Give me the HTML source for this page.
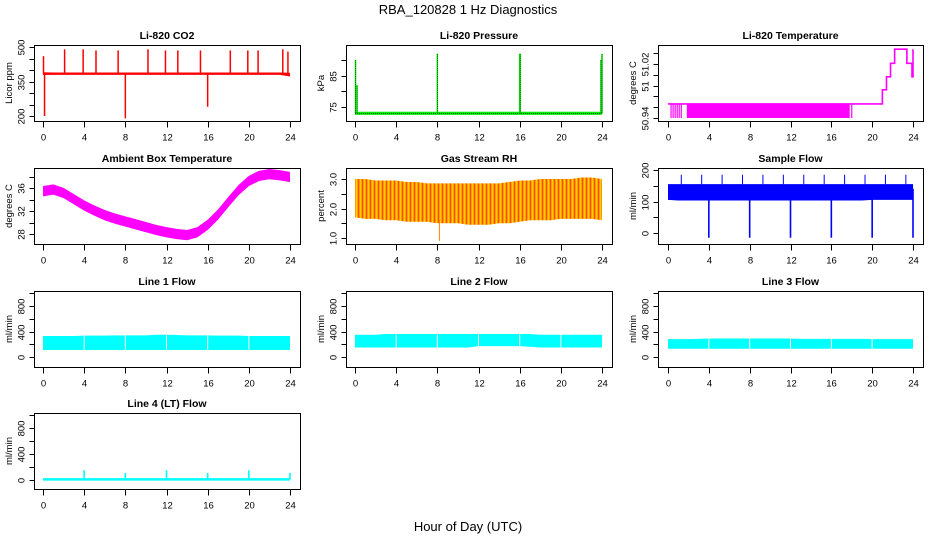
<!DOCTYPE html>
<html><head><meta charset="utf-8">
<style>
html,body{margin:0;padding:0;background:#fff;}
svg{display:block;font-family:"Liberation Sans",Arial,sans-serif;}
</style></head>
<body>
<svg id="chart" width="936" height="540" viewBox="0 0 936 540" xmlns="http://www.w3.org/2000/svg">
<defs>
<pattern id="rhpat" width="4" height="4" patternUnits="userSpaceOnUse">
<rect width="4" height="4" fill="#ff9a00"/><rect width="1" height="4" fill="#ffd000"/><rect x="2" y="0" width="1" height="4" fill="#ff5000"/>
</pattern>
</defs>
<text x="468" y="14" text-anchor="middle" font-size="13">RBA_120828  1 Hz Diagnostics</text>
<text x="468" y="531" text-anchor="middle" font-size="13">Hour of Day (UTC)</text>
</svg>
<script>
// ---- data (hours 0..24) ----
const hours = [0,1,2,3,4,5,6,7,8,9,10,11,12,13,14,15,16,17,18,19,20,21,22,23,24];
const xTicks = [0,4,8,12,16,20,24];

const co2Lo = [378,379,379,379,379,379,379,379,379,379,379,379,379,379,379,379,379,379,379,379,379,379,379,379,372];
const co2Hi = [390,389,389,389,389,389,389,389,389,389,389,389,389,389,389,389,389,389,389,389,389,389,389,389,388];
const co2SpikeHours = [0.05,2.1,3.9,5.15,7.3,10.2,11.9,13.1,15.3,18.2,19.9,20.9,23.3,23.8,8.0,16.0,0.15];
const co2SpikeVals = [460,490,490,485,485,490,485,485,485,485,485,485,490,480,190,240,200];

const presLo = [72.5,72.5,72.5,72.5,72.5,72.5,72.5,72.5,72.5,72.5,72.5,72.5,72.5,72.5,72.5,72.5,72.5,72.5,72.5,72.5,72.5,72.5,72.5,72.5,72.5];
const presHi = [73.5,73.5,73.5,73.5,73.5,73.5,73.5,73.5,73.5,73.5,73.5,73.5,73.5,73.5,73.5,73.5,73.5,73.5,73.5,73.5,73.5,73.5,73.5,73.5,73.5];
const presSpikeHours = [0.05,0.2,8.0,16.0,16.05,23.9,24.0];
const presSpikeVals = [90,82,92,92,92,90,92];

const tempStepHours = [0,21.0,21.4,21.8,22.2,23.4,23.9,24.0];
const tempStepVals = [50.966,50.992,51.016,51.041,51.067,51.041,51.016,51.067];
const tempDipHours = [0.3,0.5,0.7,0.9,1.1,1.3,1.9,17.7,18.0];
const tempDipFrom = 1.9, tempDipTo = 17.8, tempDipVal = 50.94;

const ambMid = [35.5,35.8,35.2,34.1,33.0,32.1,31.3,30.7,30.2,29.7,29.2,28.7,28.3,28.0,27.8,28.3,29.6,31.4,33.6,35.7,37.3,38.2,38.5,38.3,38.0];
const ambHalf = [0.9,0.9,0.9,0.9,0.9,0.9,0.9,0.9,0.9,0.9,0.9,0.9,0.9,0.9,0.9,0.9,0.9,0.9,0.9,0.9,0.9,0.9,0.9,0.9,0.9];

const rhLo = [1.7,1.65,1.65,1.6,1.6,1.55,1.55,1.55,1.5,1.5,1.5,1.45,1.45,1.45,1.5,1.5,1.55,1.6,1.6,1.6,1.65,1.65,1.65,1.65,1.6];
const rhHi = [3.0,3.0,2.95,2.95,2.95,2.9,2.9,2.85,2.85,2.85,2.85,2.85,2.85,2.85,2.85,2.9,2.95,2.95,3.0,3.0,3.0,3.0,3.05,3.05,3.0];

const sfLo = [105,103,103,103,103,103,103,103,103,103,103,103,103,103,103,103,103,103,103,103,105,105,105,105,105];
const sfHi = [155,155,155,155,155,155,155,155,155,155,155,155,155,155,155,155,155,155,155,155,155,155,155,155,155];
const sfDropHours = [4,8,12,16,20,24];
const sfDropVals = [-15,-15,-15,-15,-15,-15];

const l1Lo = [110,110,110,110,110,110,110,110,110,110,110,110,110,110,110,110,110,110,110,110,110,110,110,110,110];
const l1Hi = [330,330,330,330,335,335,335,340,340,340,340,350,350,345,340,340,340,335,335,335,330,330,330,330,330];
const l2Lo = [150,150,150,150,150,150,150,150,150,150,150,150,170,170,170,170,170,160,150,150,150,150,150,150,150];
const l2Hi = [350,350,350,360,360,360,360,360,360,360,360,360,360,360,360,360,360,360,350,350,350,350,350,350,350];
const l3Lo = [130,130,130,130,130,130,130,130,130,130,130,130,130,130,130,130,130,130,130,130,130,130,130,130,130];
const l3Hi = [280,280,280,285,290,290,290,290,290,290,290,290,290,285,285,285,285,285,285,285,280,280,280,280,280];
const lineGapHours = [4,8,12,16,20];
const l4Base = [10,10,10,10,10,10,10,10,10,10,10,10,10,10,10,10,10,10,10,10,10,10,10,10,10];
const l4SpikeHours = [4,8,12,16,20,24];
const l4SpikeVals = [150,110,150,110,150,110];

// ---- layout ----
const NS = "http://www.w3.org/2000/svg";
const svg = document.getElementById('chart');
const cols = [{x:34,w:266,x0:43,x24:290},{x:346,w:266,x0:355,x24:602},{x:658,w:265,x0:668,x24:913}];
const rows = [45,168,291,413];
const BH = 76;

function mk(tag, attrs, parent){
  const e = document.createElementNS(NS, tag);
  for (const k in attrs) e.setAttribute(k, attrs[k]);
  (parent||svg).appendChild(e);
  return e;
}

function makePanel(name, title, col, row, yA, yB, yTickVals, yTickLabels, ylab){
  const c = cols[col], top = rows[row];
  const g = mk('g', {});
  
  
  const xs = h => c.x0 + (c.x24 - c.x0) * h / 24;
  const ys = v => top + yA[1] + (v - yA[0]) * (yB[1] - yA[1]) / (yB[0] - yA[0]);
  const plot = mk('g', {}, g);
  
  
  const clip = 'clip-' + name;
  const cp = mk('clipPath', {id: clip}, g);
  mk('rect', {x: c.x, y: top, width: c.w, height: BH}, cp);
  plot.setAttribute('clip-path', 'url(#' + clip + ')');
  const fr = mk('rect', {x: c.x + 0.5, y: top + 0.5, width: c.w, height: BH, fill: 'none', stroke: '#000', 'stroke-width': 1}, g);
  
  
  const t = mk('text', {x: c.x + c.w / 2, y: top - 6, 'text-anchor': 'middle', 'font-size': 10.5, 'font-weight': 'bold'}, g);
  t.textContent = title;
  
  
  const xa = mk('g', {}, g);
  
  
  const by = top + BH + 0.5;
  xTicks.forEach(h => {
    const x = Math.round(xs(h)) + 0.5;
    mk('line', {x1: x, x2: x, y1: by, y2: by + 6, stroke: '#000'}, xa);
    const lt = mk('text', {x: x, y: by + 19, 'text-anchor': 'middle', 'font-size': 9.5}, xa);
    lt.textContent = h;
  });
  const ya = mk('g', {}, g);
  
  
  const lx = c.x + 0.5;
  yTickVals.forEach((v, i) => {
    const y = Math.round(ys(v)) + 0.5;
    mk('line', {x1: lx - 5, x2: lx, y1: y, y2: y, stroke: '#000'}, ya);
    if (yTickLabels[i]) {
      const lt = mk('text', {x: 0, y: 0, 'text-anchor': 'middle', 'font-size': 9.5, transform: 'translate(' + (lx - 10) + ',' + y + ') rotate(-90)'}, ya);
      lt.textContent = yTickLabels[i];
    }
  });
  const yl = mk('text', {x: 0, y: 0, 'text-anchor': 'middle', 'font-size': 9.5, transform: 'translate(' + (c.x - 22) + ',' + (top + BH / 2) + ') rotate(-90)'}, g);
  yl.textContent = ylab;
  
  
  return {xs, ys, plot};
}

function band(P, lo, hi, fill){
  let pts = hours.map((h, i) => P.xs(h) + ',' + P.ys(hi[i]));
  for (let i = hours.length - 1; i >= 0; i--) pts.push(P.xs(hours[i]) + ',' + P.ys(lo[i]));
  const e = mk('polygon', {points: pts.join(' '), fill: fill}, P.plot);
  
  
  return e;
}
function vline(P, h, v1, v2, color, w){
  const x = P.xs(h);
  const e = mk('line', {x1: x, x2: x, y1: P.ys(v1), y2: P.ys(v2), stroke: color, 'stroke-width': w || 1.2}, P.plot);
  
  
  return e;
}
function baseAt(lo, hi, h){ const i = Math.min(24, Math.round(h)); return (lo[i] + hi[i]) / 2; }

// CO2
let P = makePanel('co2', 'Li-820 CO2', 0, 0, [500, 2], [200, 71], [200,250,300,350,400,450,500], ['200','','','350','','','500'], 'Licor ppm');
band(P, co2Lo, co2Hi, '#ff0000');
co2SpikeHours.forEach((h, i) => vline(P, h, baseAt(co2Lo, co2Hi, h), co2SpikeVals[i], '#ff0000', 1.5));

// Pressure
P = makePanel('pressure', 'Li-820 Pressure', 1, 0, [90, 15], [75, 62], [75,80,85,90], ['75','','85',''], 'kPa');
band(P, presLo, presHi, '#00ee00');
mk('line', {x1: P.xs(0), x2: P.xs(24), y1: P.ys(73), y2: P.ys(73), stroke: '#000', 'stroke-width': 0.6, 'stroke-dasharray': '1,1'}, P.plot);
presSpikeHours.forEach((h, i) => { vline(P, h, 73, presSpikeVals[i], '#00ee00', 1.5); vline(P, h, 73, presSpikeVals[i], '#000', 0.6).setAttribute('stroke-dasharray', '1,1'); });

// Li-820 temperature
P = makePanel('li820-temp', 'Li-820 Temperature', 2, 0, [50.94, 73], [51.06, 8], [50.94,50.96,50.98,51.00,51.02,51.04,51.06], ['50.94','','','51','','51.02',''], 'degrees C');
{
  const r = mk('rect', {x: P.xs(tempDipFrom), y: P.ys(tempStepVals[0]), width: P.xs(tempDipTo) - P.xs(tempDipFrom), height: P.ys(tempDipVal) - P.ys(tempStepVals[0]), fill: '#ff00ff'}, P.plot);
  
  
  tempDipHours.forEach(h => vline(P, h, tempStepVals[0], tempDipVal, '#ff00ff', 1.2));
  let d = '';
  tempStepHours.forEach((h, i) => {
    if (i === 0) d += 'M' + P.xs(h) + ',' + P.ys(tempStepVals[i]);
    else d += ' H' + P.xs(h) + ' V' + P.ys(tempStepVals[i]);
  });
  const p = mk('path', {d: d, fill: 'none', stroke: '#ff00ff', 'stroke-width': 1.6}, P.plot);
  
  
}

// Ambient box temperature
P = makePanel('ambient-temp', 'Ambient Box Temperature', 0, 1, [38, 9], [28, 66], [28,30,32,34,36,38], ['28','','32','','36',''], 'degrees C');
band(P, ambMid.map((v, i) => v - ambHalf[i]), ambMid.map((v, i) => v + ambHalf[i]), '#ff00ff');

// Gas stream RH
P = makePanel('gas-rh', 'Gas Stream RH', 1, 1, [3.0, 11], [1.0, 70], [1.0,1.5,2.0,2.5,3.0], ['1.0','','2.0','','3.0'], 'percent');
band(P, rhLo, rhHi, 'url(#rhpat)');
vline(P, 8.2, 1.6, 0.9, '#ff8000', 1);

// Sample flow
P = makePanel('sample-flow', 'Sample Flow', 2, 1, [200, 2], [0, 65], [0,50,100,150,200], ['0','','100','','200'], 'ml/min');
band(P, sfLo, sfHi, '#0000ff');
hours.forEach((h, i) => { if (i % 2 === 1) vline(P, h + 0.3, sfHi[i], 185, '#0000ff', 1); });
sfDropHours.forEach((h, i) => vline(P, h, 140, sfDropVals[i], '#0000ff', 1.6));

// Line flows
const lineTicks = [0,200,400,600,800,1000], lineLabels = ['0','','400','','800',''];
[['line1-flow','Line 1 Flow',0,l1Lo,l1Hi],['line2-flow','Line 2 Flow',1,l2Lo,l2Hi],['line3-flow','Line 3 Flow',2,l3Lo,l3Hi]].forEach(cfg => {
  const Q = makePanel(cfg[0], cfg[1], cfg[2], 2, [800, 15], [0, 66], lineTicks, lineLabels, 'ml/min');
  band(Q, cfg[3], cfg[4], '#00ffff');
  lineGapHours.forEach(h => vline(Q, h, 0, 500, '#ffffff', 1));
});

// Line 4
P = makePanel('line4-flow', 'Line 4 (LT) Flow', 0, 3, [800, 15], [0, 67], lineTicks, lineLabels, 'ml/min');
{
  const p = mk('polyline', {points: hours.map((h, i) => P.xs(h) + ',' + P.ys(l4Base[i])).join(' '), fill: 'none', stroke: '#00ffff', 'stroke-width': 2.5}, P.plot);
  
  
  l4SpikeHours.forEach((h, i) => vline(P, h, 10, l4SpikeVals[i], '#00ffff', 1.6));
}
</script>
</body></html>
